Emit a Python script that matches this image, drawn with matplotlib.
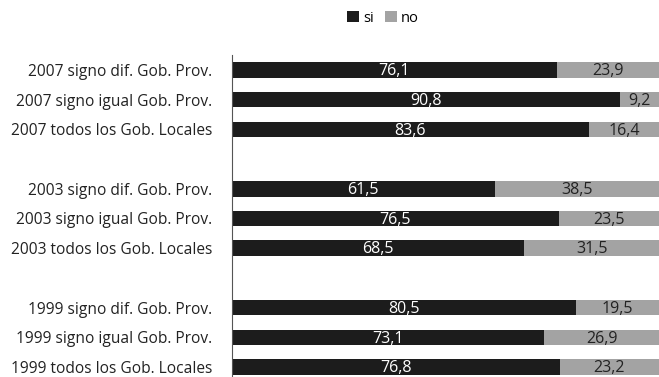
import matplotlib
matplotlib.use("Agg")
import matplotlib.pyplot as plt

categories = [
    "2007 signo dif. Gob. Prov.",
    "2007 signo igual Gob. Prov.",
    "2007 todos los Gob. Locales",
    "",
    "2003 signo dif. Gob. Prov.",
    "2003 signo igual Gob. Prov.",
    "2003 todos los Gob. Locales",
    "",
    "1999 signo dif. Gob. Prov.",
    "1999 signo igual Gob. Prov.",
    "1999 todos los Gob. Locales",
]
si = [76.1, 90.8, 83.6, None, 61.5, 76.5, 68.5, None, 80.5, 73.1, 76.8]
no = [23.9, 9.2, 16.4, None, 38.5, 23.5, 31.5, None, 19.5, 26.9, 23.2]

plt.rcParams["font.family"] = ["Open Sans", "DejaVu Sans"]

W, H = 659, 377
fig = plt.figure(figsize=(W / 100, H / 100), dpi=100)
top_px, bottom_px = 55, 382
left_px, right_px = 232, 659
ax = fig.add_axes([left_px / W, 1 - bottom_px / H,
                   (right_px - left_px) / W, (bottom_px - top_px) / H])

c_si = "#1c1c1c"
c_no = "#a3a3a3"
h = 0.52
for i, (s, n) in enumerate(zip(si, no)):
    if s is None:
        continue
    ax.barh(i, s, height=h, color=c_si, label="si" if i == 0 else None)
    ax.barh(i, n, left=s, height=h, color=c_no, label="no" if i == 0 else None)
    ax.text(s / 2, i + 0.04, f"{s:.1f}".replace(".", ","), ha="center", va="center",
            color="white", fontsize=11.5)
    ax.text(s + n / 2, i + 0.04, f"{n:.1f}".replace(".", ","), ha="center", va="center",
            color="#222222", fontsize=11.5)

ax.set_xlim(0, 100)
ax.set_ylim(len(categories) - 0.5, -0.5)
ax.set_yticks(range(len(categories)))
ax.set_yticklabels(categories, fontsize=11.2, color="#222222")
ax.tick_params(axis="y", length=0, pad=14)
ax.set_xticks([])
for sp in ["top", "right", "bottom"]:
    ax.spines[sp].set_visible(False)
ax.spines["left"].set_color("#555555")
ax.spines["left"].set_linewidth(0.8)

fig.legend(loc="center", bbox_to_anchor=(383 / W, 1 - 18 / H), ncol=2,
           frameon=False, fontsize=10.5, handlelength=0.8, handleheight=0.8,
           handletextpad=0.3, columnspacing=0.8)

fig.savefig("out.png", dpi=100)
